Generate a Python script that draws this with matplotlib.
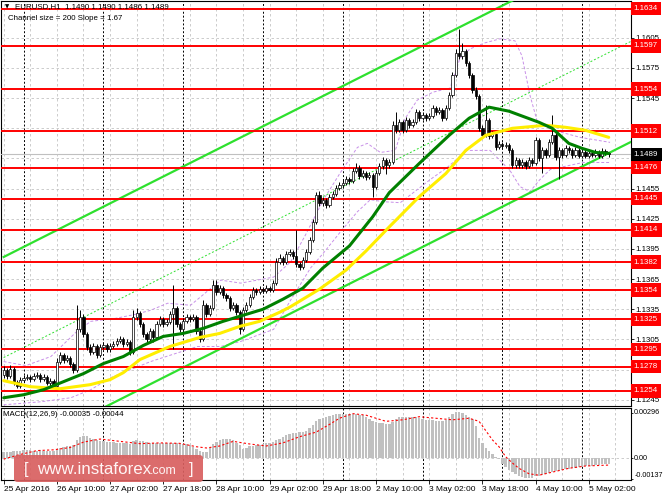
import numpy as np
import matplotlib
matplotlib.use("Agg")
import matplotlib.pyplot as plt
from matplotlib.patches import FancyBboxPatch
from matplotlib.transforms import blended_transform_factory

plt.rcParams['font.family'] = ['Liberation Sans', 'DejaVu Sans']

# EURUSD H1, prices in pips (11275 = 1.1275), one value per hourly bar
first_open = 11270
closes = [
    11275, 11269, 11276, 11263, 11259, 11265, 11267, 11268, 11266, 11269,
    11270, 11266, 11268, 11262, 11264, 11259, 11283, 11290, 11285, 11287,
    11281, 11275, 11315, 11327, 11310, 11297, 11293, 11298, 11290, 11297,
    11299, 11295, 11298, 11300, 11303, 11305, 11300, 11302, 11293, 11327,
    11331, 11320, 11310, 11305, 11313, 11307, 11320, 11325, 11320, 11322,
    11330, 11336, 11320, 11315, 11323, 11327, 11325, 11327, 11313, 11305,
    11339, 11330, 11336, 11359, 11352, 11356, 11349, 11346, 11336, 11339,
    11332, 11315, 11334, 11339, 11347, 11354, 11352, 11355, 11353, 11356,
    11354, 11361, 11382, 11386, 11382, 11390, 11392, 11388, 11380, 11377,
    11384, 11392, 11404, 11422, 11449, 11441, 11444, 11439, 11447, 11450,
    11456, 11459, 11461, 11465, 11463, 11473, 11476, 11468, 11471, 11467,
    11469, 11457, 11471, 11477, 11483, 11478, 11481, 11518, 11513, 11521,
    11513, 11523, 11518, 11521, 11531, 11525, 11528, 11525, 11527, 11535,
    11531, 11533, 11525, 11535, 11548, 11568, 11590, 11587, 11592, 11580,
    11568, 11553, 11547, 11515, 11508, 11523, 11507, 11509, 11496, 11499,
    11497, 11498, 11493, 11478, 11483, 11478, 11481, 11477, 11483, 11480,
    11503, 11485, 11493, 11488, 11501, 11508, 11486, 11493, 11488, 11495,
    11493, 11488, 11493, 11487, 11491, 11487, 11490, 11488, 11491, 11487,
    11492, 11490, 11489,
]
highs = [
    11279, 11277, 11280, 11278, 11265, 11268, 11270, 11271, 11270, 11272,
    11273, 11272, 11271, 11270, 11267, 11266, 11287, 11293, 11292, 11290,
    11289, 11283, 11339, 11334, 11330, 11312, 11300, 11301, 11300, 11300,
    11302, 11301, 11301, 11303, 11306, 11308, 11307, 11305, 11304, 11334,
    11336, 11333, 11322, 11312, 11316, 11315, 11323, 11328, 11327, 11325,
    11333, 11359, 11338, 11322, 11326, 11330, 11329, 11330, 11329, 11315,
    11344, 11341, 11339, 11364, 11364, 11359, 11358, 11351, 11348, 11342,
    11341, 11334, 11337, 11342, 11350, 11357, 11356, 11358, 11357, 11359,
    11358, 11364, 11386, 11390, 11388, 11393, 11395, 11394, 11414, 11382,
    11387, 11395, 11407, 11425, 11452, 11453, 11447, 11446, 11450, 11453,
    11459, 11462, 11464, 11468, 11467, 11476, 11480, 11478, 11474, 11473,
    11472, 11471, 11474, 11480, 11486, 11485, 11484, 11522, 11531, 11524,
    11523, 11526, 11525, 11524, 11534, 11533, 11531, 11530, 11530, 11538,
    11537, 11536, 11535, 11538, 11551, 11571, 11594, 11614, 11600, 11594,
    11582, 11570, 11556, 11549, 11518, 11538, 11525, 11512, 11511, 11502,
    11501, 11501, 11500, 11495, 11486, 11485, 11484, 11483, 11486, 11485,
    11506, 11505, 11496, 11495, 11504, 11528, 11510, 11496, 11495, 11498,
    11497, 11495, 11496, 11495, 11494, 11493, 11493, 11492, 11494, 11493,
    11495, 11494, 11490,
]
lows = [
    11267, 11266, 11267, 11260, 11257, 11257, 11263, 11265, 11263, 11264,
    11267, 11263, 11264, 11260, 11259, 11257, 11257, 11281, 11282, 11283,
    11278, 11272, 11273, 11312, 11307, 11294, 11290, 11291, 11287, 11288,
    11295, 11293, 11293, 11296, 11298, 11301, 11297, 11298, 11290, 11291,
    11324, 11317, 11307, 11302, 11303, 11302, 11305, 11318, 11317, 11318,
    11320, 11295, 11317, 11312, 11313, 11321, 11322, 11323, 11310, 11302,
    11303, 11327, 11328, 11334, 11349, 11350, 11346, 11343, 11333, 11334,
    11329, 11310, 11313, 11332, 11337, 11345, 11349, 11350, 11351, 11351,
    11352, 11352, 11359, 11380, 11379, 11380, 11388, 11385, 11377, 11374,
    11375, 11382, 11390, 11402, 11420, 11438, 11438, 11436, 11437, 11445,
    11448, 11454, 11457, 11459, 11460, 11461, 11471, 11465, 11466, 11464,
    11465, 11447, 11455, 11469, 11475, 11470, 11476, 11479, 11510, 11511,
    11510, 11511, 11515, 11516, 11519, 11522, 11523, 11522, 11523, 11525,
    11528, 11529, 11522, 11523, 11533, 11546, 11566, 11584, 11584, 11577,
    11565, 11550, 11544, 11512, 11505, 11506, 11504, 11505, 11493, 11494,
    11494, 11495, 11490, 11476, 11476, 11476, 11476, 11475, 11476, 11477,
    11478, 11482, 11471, 11485, 11486, 11499, 11483, 11465, 11485, 11486,
    11490, 11485, 11486, 11485, 11485, 11485, 11485, 11486, 11486, 11485,
    11485, 11488, 11486,
]

# MACD(12,26,9) main line, units of 1e-5, per bar
macd_main = [
    42, 40, 44, 46, 48, 50, 52, 54, 52, 50,
    50, 52, 50, 48, 46, 45, 55, 65, 72, 78,
    82, 85, 120, 140, 148, 145, 132, 125, 118, 115,
    110, 108, 105, 103, 100, 100, 98, 98, 95, 110,
    118, 115, 110, 105, 102, 98, 100, 102, 100, 98,
    98, 102, 100, 96, 95, 92, 85, 75, 60, 45,
    38, 42, 70, 90, 105, 118, 125, 128, 125, 118,
    100, 85, 62, 70, 78, 82, 85, 88, 95, 100,
    102, 108, 120, 128, 140, 150, 158, 162, 165, 168,
    172, 178, 195, 215, 240, 255, 262, 270, 275, 280,
    285, 288, 290, 290, 288, 286, 285, 282, 278, 270,
    255, 245, 238, 232, 228, 225, 225, 238, 258, 265,
    268, 270, 268, 268, 266, 262, 255, 250, 248, 246,
    244, 242, 242, 248, 265, 285, 300, 298, 292, 280,
    270, 258, 210, 135, 100, 65, 50, 30, 10, -5,
    -40, -58, -78, -92, -105, -115, -120, -125, -128, -126,
    -118, -112, -106, -100, -95, -90, -85, -80, -76, -72,
    -68, -64, -60, -57, -54, -52, -50, -47, -45, -42,
    -40, -38, -35,
]
# MACD signal line read at sample bars
signal_bars = [0, 5, 10, 15, 20, 24, 29, 35, 41, 47, 53, 58, 61, 65, 69, 74, 79, 84,
               89, 94, 98, 101, 105, 109, 115, 120, 125, 130, 135, 140, 143, 145,
               147, 149, 151, 153, 155, 158, 161, 165, 170, 175, 182]
signal_vals = [-5, 25, 50, 55, 70, 105, 125, 110, 95, 100, 97, 75, 67, 80, 110, 93, 80, 100,
               140, 170, 220, 260, 290, 280, 240, 250, 270, 260, 250, 260, 240, 180,
               120, 75, 10, -30, -65, -100, -110, -90, -65, -50, -44]

# moving averages (dark green fast, yellow slow), read at sample bars
ma_fast_bars = [0, 6, 12, 18, 24, 30, 36, 42, 48, 54, 60, 66, 72, 78, 84, 90, 96, 104,
                111, 116, 125, 134, 140, 146, 152, 161, 165, 170, 174, 178, 182]
ma_fast = [11247, 11250, 11255, 11263, 11271, 11281, 11288, 11299, 11308, 11311, 11316,
           11323, 11329, 11335, 11345, 11356, 11376, 11398, 11427, 11451, 11480, 11508,
           11525, 11536, 11532, 11521, 11515, 11500, 11495, 11491, 11490]
ma_slow_bars = [0, 8, 17, 26, 32, 36, 41, 50, 59, 65, 71, 77, 83, 86, 95, 103, 109, 116,
                125, 133, 139, 145, 153, 163, 169, 175, 182]
ma_slow = [11264, 11258, 11256, 11260, 11265, 11272, 11285, 11298, 11307, 11311, 11318,
           11323, 11332, 11337, 11355, 11374, 11393, 11417, 11447, 11470, 11493, 11508,
           11515, 11518, 11516, 11513, 11506]

# dashed violet bands
band_up_bars = [0, 6.7, 14.2, 21.7, 26.2, 33.7, 39.7, 44.2, 49.3, 56.2, 65.3, 71.3, 81.2,
                86.3, 90.8, 96.2, 101.3, 106.4, 109.4, 113.3, 117.8, 120.8, 124.4, 129.2,
                134.3, 137.3, 140.3, 144.8, 149.3, 153.8, 155.9, 158.3, 160.4, 164.4,
                173.4, 182.4]
band_up = [11283, 11279, 11288, 11312, 11323, 11326, 11330, 11334, 11341, 11339, 11364,
           11361, 11367, 11382, 11409, 11444, 11471, 11496, 11500, 11491, 11493, 11525,
           11543, 11551, 11555, 11585, 11594, 11600, 11604, 11602, 11587, 11548, 11523,
           11514, 11506, 11501]
band_dn_bars = [0, 11.2, 20.2, 26.2, 32.2, 38.2, 44.2, 51.7, 58.3, 65.3, 71.3, 81.2, 86.3,
                92.3, 96.2, 101.3, 106.4, 110.3, 114.2, 119.3, 124.4, 128.3, 133.4, 139.4,
                146.3, 149.3, 152.3, 155.3, 158.3, 161.3, 164.4, 174.3, 182.4]
band_dn = [11240, 11243, 11247, 11255, 11267, 11275, 11283, 11291, 11298, 11298, 11303,
           11315, 11344, 11376, 11391, 11412, 11432, 11444, 11442, 11441, 11454, 11464,
           11476, 11493, 11493, 11483, 11473, 11457, 11452, 11464, 11474, 11481, 11481]

# regression channel (Channel size = 200, Slope = 1.67)
channel_bars = [0, 189]
channel_lower = [11187, 11502]
channel_mid = [11287, 11602]
channel_upper = [11387, 11702]

levels = [1.1634, 1.1597, 1.1554, 1.1512, 1.1476, 1.1445, 1.1414,
          1.1382, 1.1354, 1.1325, 1.1295, 1.1278, 1.1254]
last_price = 1.1489
price_ticks = [1.1245, 1.1275, 1.1305, 1.1335, 1.1365, 1.1395, 1.1425,
               1.1455, 1.1485, 1.1515, 1.1545, 1.1575, 1.1605, 1.1635]
time_labels = ["25 Apr 2016", "26 Apr 10:00", "27 Apr 02:00", "27 Apr 18:00",
               "28 Apr 10:00", "29 Apr 02:00", "29 Apr 18:00", "2 May 10:00",
               "3 May 02:00", "3 May 18:00", "4 May 10:00", "5 May 02:00"]
label_step = 16
day_breaks = [6, 30, 54, 78, 102, 126, 150, 174]

W, H = 664, 498
fs = 5.7

c = np.array(closes) / 1e4
hi = np.array(highs) / 1e4
lo = np.array(lows) / 1e4
o = np.concatenate([[first_open / 1e4], c[:-1]])
bars = np.arange(len(c))

fig = plt.figure(figsize=(W / 100, H / 100), dpi=100)
ax = fig.add_axes([1 / W, 1 - 406 / H, 630 / W, 405 / H])
ax2 = fig.add_axes([1 / W, 1 - 480 / H, 630 / W, 72 / H])

xmin, xmax = -0.8, 188.7
for a in (ax, ax2):
    a.set_xlim(xmin, xmax)
    for s in a.spines.values():
        s.set_color("black")
        s.set_linewidth(0.8)
    # grid every 8 bars, black day separators
    for b in range(0, 189, 8):
        a.axvline(b, color="#c4c4c4", lw=0.6, ls=(0, (3, 3)), zorder=0)
    for b in day_breaks:
        a.axvline(b, color="black", lw=0.7, ls=(0, (2, 2)), zorder=0.5)

ax.set_ylim(1.12388, 1.16416)
for p in price_ticks:
    ax.axhline(p, color="#c4c4c4", lw=0.6, ls=(0, (3, 3)), zorder=0)

# channel
ax.plot(channel_bars, np.array(channel_upper) / 1e4, color="#2ee02e", lw=1.6, zorder=4)
ax.plot(channel_bars, np.array(channel_lower) / 1e4, color="#2ee02e", lw=1.6, zorder=4)
ax.plot(channel_bars, np.array(channel_mid) / 1e4, color="#2ee02e", lw=0.7,
        ls=(0, (2, 2)), zorder=4)

# bands
ax.plot(band_up_bars, np.array(band_up) / 1e4, color="#c890e8", lw=0.7, ls=(0, (3, 2)), zorder=3)
ax.plot(band_dn_bars, np.array(band_dn) / 1e4, color="#c890e8", lw=0.7, ls=(0, (3, 2)), zorder=3)

# level lines
for lv in levels:
    ax.axhline(lv, color="#ff0000", lw=1.4, zorder=4)
ax.axhline(last_price, color="#c0c0c0", lw=0.8, zorder=3)

# candles
up = c >= o
bottom = np.minimum(o, c)
height = np.maximum(np.abs(c - o), 0.00003)
ax.vlines(bars, lo, hi, color="black", lw=0.7, zorder=5)
ax.bar(bars[up], height[up], bottom=bottom[up], width=0.68, color="white",
       edgecolor="black", linewidth=0.5, zorder=6)
ax.bar(bars[~up], height[~up], bottom=bottom[~up], width=0.68, color="black",
       edgecolor="black", linewidth=0.5, zorder=6)

# moving averages
ax.plot(ma_slow_bars, np.array(ma_slow) / 1e4, color="#ffee00", lw=2.2, zorder=7,
        solid_capstyle="round")
ax.plot(ma_fast_bars, np.array(ma_fast) / 1e4, color="#008000", lw=2.2, zorder=7,
        solid_capstyle="round")

# right price scale
ax.yaxis.tick_right()
ax.set_yticks(price_ticks, [f"{p:.4f}" for p in price_ticks])
ax.tick_params(axis="y", labelsize=fs, length=2, pad=1.5, width=0.6)
ax.tick_params(axis="x", bottom=False, labelbottom=False)

tr = blended_transform_factory(ax.transAxes, ax.transData)
for lv in levels:
    ax.text(1.0045, lv, f"{lv:.4f}", transform=tr, fontsize=fs, color="white",
            va="center", ha="left", clip_on=False, zorder=10,
            bbox=dict(boxstyle="square,pad=0.42", fc="#ff0000", ec="none"))
ax.text(1.0045, last_price, f"{last_price:.4f}", transform=tr, fontsize=fs, color="white",
        va="center", ha="left", clip_on=False, zorder=11,
        bbox=dict(boxstyle="square,pad=0.42", fc="black", ec="none"))

# MACD panel
ax2.set_ylim(-0.001409, 0.003266)
ax2.axhline(0, color="#c4c4c4", lw=0.6, ls=(0, (3, 3)), zorder=0)
ax2.bar(bars, np.array(macd_main) / 1e5, width=0.72, color="#c0c0c0", zorder=2)
ax2.plot(signal_bars, np.array(signal_vals) / 1e5, color="#ff0000", lw=0.8,
         ls=(0, (2, 2)), zorder=3)
ax2.yaxis.tick_right()
ax2.set_yticks([0.00296, 0.0, -0.00137], ["0.00296", "0.00", "-0.00137"])
ax2.tick_params(axis="y", labelsize=fs - 0.5, length=1.5, pad=0.8, width=0.6)
for lab, va in zip(ax2.get_yticklabels(), ["center", "center", "bottom"]):
    lab.set_va(va)
tick_pos = list(range(0, len(time_labels) * label_step, label_step))
ax2.set_xticks(tick_pos, time_labels)
ax2.tick_params(axis="x", labelsize=fs + 0.3, length=3, pad=1.5, width=0.6)
for lab in ax2.get_xticklabels():
    lab.set_ha("left")

# texts
fig.text(5 / W, 1 - 7 / H, "\u25bc", fontsize=4, va="center", ha="left",
         family=["DejaVu Sans"])
fig.text(15 / W, 1 - 7 / H, "EURUSD,H1  1.1490 1.1490 1.1486 1.1489", fontsize=fs,
         va="center", ha="left", zorder=0)
fig.text(8 / W, 1 - 19 / H, "Channel size = 200 Slope = 1.67", fontsize=fs,
         va="center", ha="left")
fig.text(3 / W, 1 - 414 / H, "MACD(12,26,9) -0.00035 -0.00044", fontsize=fs,
         va="center", ha="left")

# watermark
wm = FancyBboxPatch((14 / W, 1 - 482 / H), 189 / W, 27 / H,
                    boxstyle="round,pad=0,rounding_size=0.006",
                    transform=fig.transFigure, fc="#d85f5f", ec="none", alpha=0.92,
                    zorder=20)
fig.patches.append(wm)
fig.text(24 / W, 1 - 469 / H, "[", fontsize=12, color="#fff4f4", va="center",
         ha="left", zorder=21)
fig.text(37 / W, 1 - 469 / H, "www.instaforex", fontsize=12.2, color="#fff4f4",
         va="center", ha="left", zorder=21)
fig.text(150 / W, 1 - 470.5 / H, ".com", fontsize=9, color="#fff4f4", va="center",
         ha="left", zorder=21)
fig.text(189 / W, 1 - 469 / H, "]", fontsize=12, color="#fff4f4", va="center",
         ha="left", zorder=21)

fig.savefig("out.png", dpi=100)
